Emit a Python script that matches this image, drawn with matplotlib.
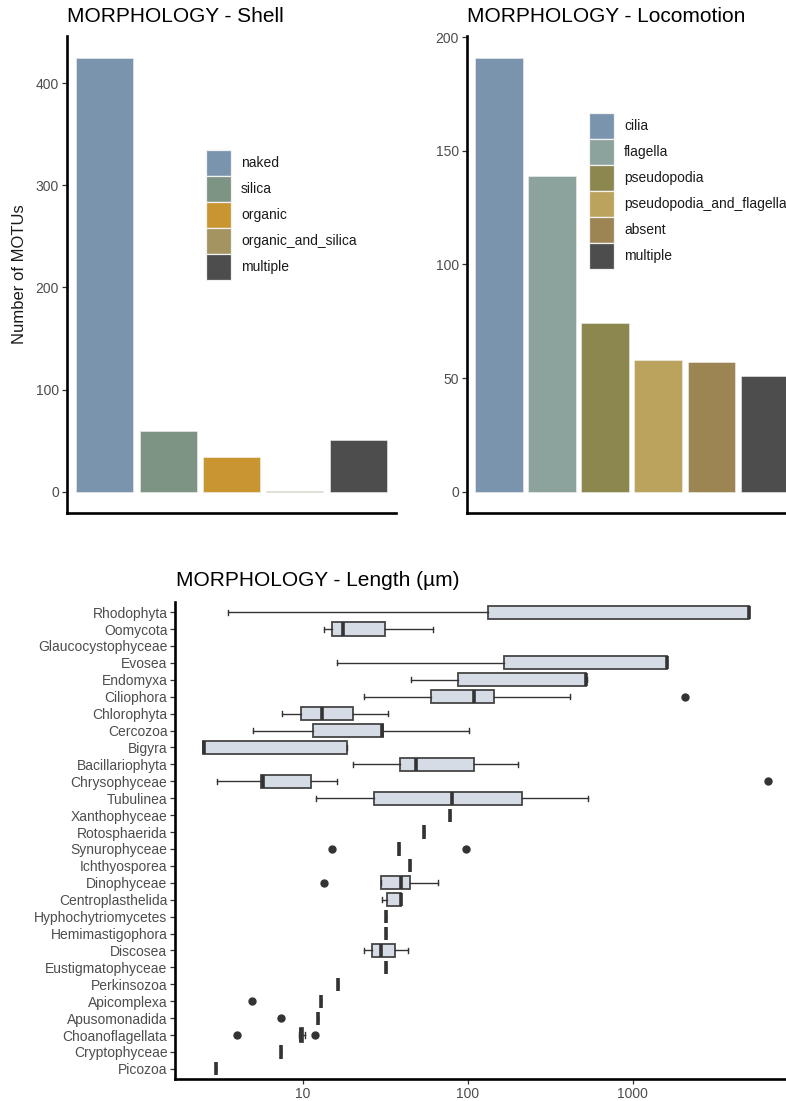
import numpy as np
import matplotlib
matplotlib.use("Agg")
import matplotlib.pyplot as plt
from matplotlib.patches import Rectangle
from matplotlib.ticker import FixedLocator, NullLocator, NullFormatter

plt.rcParams['font.family'] = ['Liberation Sans', 'DejaVu Sans']

# ---- shell type counts ----
shell_types = ["naked", "silica", "organic", "organic_and_silica", "multiple"]
shell_counts = [425, 59, 34, 1, 51]
shell_colors = ["#7B94AE", "#7D9484", "#C99530", "#A39462", "#4D4D4D"]

# ---- locomotion type counts ----
loco_types = ["cilia", "flagella", "pseudopodia", "pseudopodia_and_flagella", "absent", "multiple"]
loco_counts = [191, 139, 74, 58, 57, 51]
loco_colors = ["#7B94AE", "#8CA39D", "#8C864F", "#BBA35E", "#9C8553", "#4D4D4D"]

# ---- cell length summary per taxon (µm) ----
taxa = ["Rhodophyta", "Oomycota", "Glaucocystophyceae", "Evosea", "Endomyxa",
        "Ciliophora", "Chlorophyta", "Cercozoa", "Bigyra", "Bacillariophyta",
        "Chrysophyceae", "Tubulinea", "Xanthophyceae", "Rotosphaerida",
        "Synurophyceae", "Ichthyosporea", "Dinophyceae", "Centroplasthelida",
        "Hyphochytriomycetes", "Hemimastigophora", "Discosea",
        "Eustigmatophyceae", "Perkinsozoa", "Apicomplexa", "Apusomonadida",
        "Choanoflagellata", "Cryptophyceae", "Picozoa"]
nan = np.nan
len_whislo = [3.5, 13.5, nan, 16.0, 45.2, 23.5, 7.5, 5.0, 2.49, 20.0, 3.0, 12.0, 78, 54.5,
              38.3, 44.7, 29.9, 30.3, 32.1, 32.1, 23.3, 31.8, 16.4, 12.9, 12.3, 9.5, 7.4, 2.96]
len_q1 = [133, 15.0, nan, 165, 87.7, 60, 9.7, 11.5, 2.49, 38.7, 5.54, 26.9, 78, 54.5,
          38.3, 44.7, 29.9, 32.2, 32.1, 32.1, 26.1, 31.8, 16.4, 12.9, 12.3, 9.6, 7.4, 2.96]
len_med = [5070, 17.5, nan, 1607, 519, 108.7, 13.0, 30.3, 2.5, 48.7, 5.7, 80.0, 78, 54.5,
           38.3, 44.7, 39.4, 39.4, 32.1, 32.1, 29.8, 31.8, 16.4, 12.9, 12.3, 9.8, 7.4, 2.96]
len_q3 = [5070, 31.4, nan, 1607, 519, 144.6, 20.0, 30.7, 18.5, 108.7, 11.2, 214, 78, 54.5,
          38.3, 44.7, 44.7, 39.4, 32.1, 32.1, 35.9, 31.8, 16.4, 12.9, 12.3, 10.0, 7.4, 2.96]
len_whishi = [5070, 61.7, nan, 1607, 525, 415, 32.6, 101, 18.5, 200, 16.0, 531, 78, 54.5,
              38.3, 44.7, 65.9, 39.4, 32.1, 32.1, 43.2, 31.8, 16.4, 12.9, 12.3, 10.3, 7.4, 2.96]
len_fliers = [[], [], [], [], [], [2066], [], [], [], [], [6580], [], [], [],
              [15.0, 97.5], [], [13.4], [], [], [], [], [], [], [4.93], [7.4],
              [3.96, 11.9], [], []]

W, H = 786, 1101
fig = plt.figure(figsize=(W / 100, H / 100), dpi=100)


def px_axes(left, top, right, bottom):
    return fig.add_axes([left / W, 1 - bottom / H, (right - left) / W, (bottom - top) / H])


TICK_COL = "#4D4D4D"
SPINE_LW = 1.9
EDGE = "#F2F2F2"


def classic(ax):
    for s in ("top", "right"):
        ax.spines[s].set_visible(False)
    for s in ("left", "bottom"):
        ax.spines[s].set_linewidth(SPINE_LW)
        ax.spines[s].set_color("black")
    ax.tick_params(axis="both", length=3.5, width=0.9, color="#333333",
                   labelcolor=TICK_COL, labelsize=10, pad=2)


def key_legend(names, colors, left, top, key_w=25, key_h=26, gap=10):
    # legend keys stacked in figure pixel coordinates
    for k, (name, col) in enumerate(zip(names, colors)):
        y0 = top + k * key_h
        fig.add_artist(Rectangle((left / W, 1 - (y0 + key_h) / H), key_w / W, key_h / H,
                                 transform=fig.transFigure, facecolor=col,
                                 edgecolor=EDGE, linewidth=0.9))
        fig.text((left + key_w + gap) / W, 1 - (y0 + key_h / 2) / H, name,
                 fontsize=10, va="center", ha="left", color="#1A1A1A")


def bar_panel(ax, names, counts, colors, ymax_ticks, step):
    x = np.arange(1, len(names) + 1)
    ax.bar(x, counts, width=0.9, color=colors, edgecolor=EDGE, linewidth=0.4)
    ax.set_xlim(0.4, len(names) + 0.6)
    ax.set_ylim(-max(counts) * 0.05, max(counts) * 1.05)
    ax.set_yticks(np.arange(0, ymax_ticks + 1, step))
    ax.xaxis.set_major_locator(NullLocator())
    ax.xaxis.set_major_formatter(NullFormatter())
    classic(ax)


# ---- Shell panel ----
ax1 = px_axes(66.7, 36, 396.4, 513.3)
bar_panel(ax1, shell_types, shell_counts, shell_colors, 400, 100)
key_legend(shell_types, shell_colors, 206, 150)
fig.text(67 / W, 1 - 17 / H, "MORPHOLOGY - Shell", fontsize=15, va="center", ha="left")
fig.text(20 / W, 1 - 274.5 / H, "Number of MOTUs", fontsize=12, rotation=90,
         va="center", ha="center", color="#1A1A1A")

# ---- Locomotion panel ----
ax2 = px_axes(466.7, 36, 796.6, 513.3)
bar_panel(ax2, loco_types, loco_counts, loco_colors, 200, 50)
key_legend(loco_types, loco_colors, 589, 113.3)
fig.text(467 / W, 1 - 17 / H, "MORPHOLOGY - Locomotion", fontsize=15, va="center", ha="left")

# ---- Length panel ----
ax3 = px_axes(175.1, 602, 796, 1079)
n = len(taxa)
stats = []
positions = []
for i in range(n):
    if np.isnan(len_med[i]):
        continue
    stats.append(dict(whislo=len_whislo[i], q1=len_q1[i], med=len_med[i],
                      q3=len_q3[i], whishi=len_whishi[i], fliers=len_fliers[i]))
    positions.append(i)

ax3.set_xscale("log")
ax3.bxp(stats, positions=positions, orientation="horizontal", widths=0.78,
        capwidths=0.3, patch_artist=True, showfliers=True,
        boxprops=dict(facecolor="#D6DCE6", edgecolor="#454545", linewidth=1.3),
        medianprops=dict(color="#333333", linewidth=2.6, solid_capstyle="butt"),
        whiskerprops=dict(color="#333333", linewidth=1.0),
        capprops=dict(color="#333333", linewidth=1.0),
        flierprops=dict(marker="o", markersize=5, markerfacecolor="#333333",
                        markeredgecolor="#333333", linestyle="none"))
ax3.set_xlim(10 ** 0.225, 10 ** 3.989)
ax3.set_ylim(n - 1 + 0.6, -0.6)
ax3.set_yticks(np.arange(n))
ax3.set_yticklabels(taxa)
ax3.xaxis.set_major_locator(FixedLocator([10, 100, 1000]))
ax3.set_xticklabels(["10", "100", "1000"])
ax3.xaxis.set_minor_locator(NullLocator())
classic(ax3)
fig.text(176 / W, 1 - 580 / H, "MORPHOLOGY - Length (µm)", fontsize=15, va="center", ha="left")

fig.savefig("out.png", dpi=100)
